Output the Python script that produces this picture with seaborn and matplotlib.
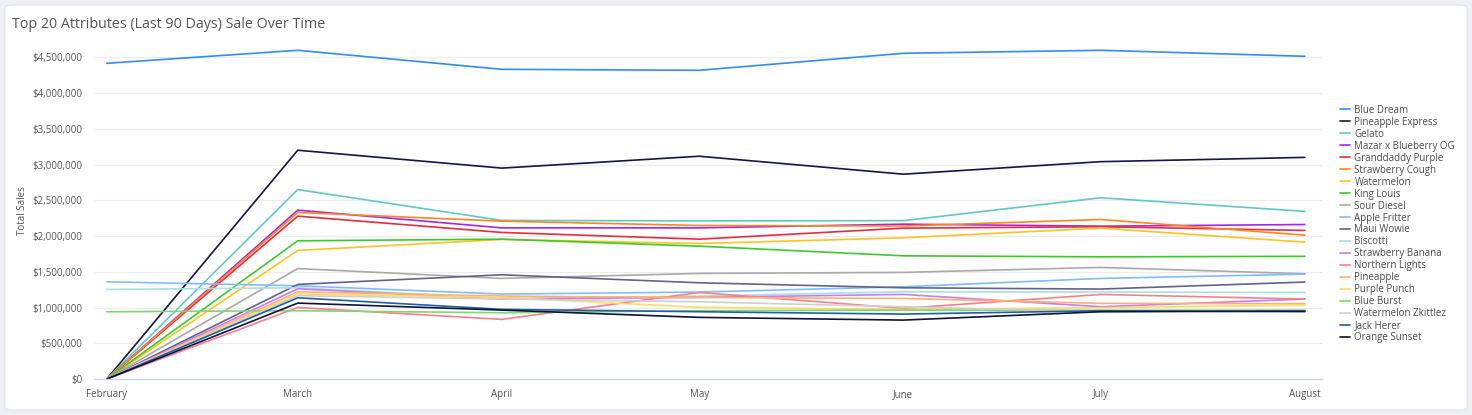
import matplotlib
matplotlib.use("Agg")
import matplotlib.pyplot as plt
import matplotlib.ticker as mticker
from matplotlib.patches import FancyBboxPatch
import seaborn as sns
import pandas as pd
import numpy as np

months = ["2024-02-01", "2024-03-01", "2024-04-01", "2024-05-01", "2024-06-01", "2024-07-01", "2024-08-01"]
month_labels = ["February", "March", "April", "May", "June", "July", "August"]

blue_dream = [4416000, 4598000, 4332000, 4318000, 4556000, 4598000, 4514000]
pineapple_express = [0, 3200000, 2950000, 3116000, 2865000, 3040000, 3100000]
gelato = [0, 2650000, 2218000, 2212000, 2215000, 2535000, 2345000]
mazar_blueberry = [0, 2362000, 2114000, 2114000, 2166000, 2138000, 2161000]
granddaddy_purple = [0, 2278000, 2050000, 1956000, 2110000, 2130000, 2078000]
strawberry_cough = [0, 2330000, 2208000, 2147000, 2140000, 2231000, 2012000]
watermelon = [0, 1798000, 1952000, 1895000, 1975000, 2110000, 1914000]
king_louis = [0, 1933000, 1956000, 1858000, 1723000, 1709000, 1716000]
sour_diesel = [0, 1545000, 1407000, 1477000, 1491000, 1561000, 1472000]
apple_fritter = [1360000, 1304000, 1188000, 1216000, 1290000, 1407000, 1467000]
maui_wowie = [0, 1323000, 1458000, 1346000, 1276000, 1258000, 1356000]
biscotti = [1253000, 1276000, 1127000, 1160000, 1220000, 1216000, 1210000]
strawberry_banana = [0, 1262000, 1118000, 1142000, 1183000, 1011000, 1118000]
northern_lights = [0, 1000000, 834000, 1210000, 988000, 1183000, 1118000]
pineapple = [0, 1220000, 1160000, 1140000, 1127000, 1058000, 1053000]
purple_punch = [0, 1190000, 1142000, 1002000, 974000, 997000, 1034000]
blue_burst = [941000, 955000, 927000, 955000, 964000, 960000, 964000]
watermelon_zkittlez = [0, 1165000, 1120000, 1080000, 1010000, 941000, 960000]
jack_herer = [0, 1136000, 974000, 941000, 908000, 955000, 941000]
orange_sunset = [0, 1062000, 964000, 862000, 824000, 941000, 950000]

series = {
    "Blue Dream": (blue_dream, "#2b8ff7"),
    "Pineapple Express": (pineapple_express, "#14144f"),
    "Gelato": (gelato, "#5ec9c9"),
    "Mazar x Blueberry OG": (mazar_blueberry, "#a424f0"),
    "Granddaddy Purple": (granddaddy_purple, "#ec2a3f"),
    "Strawberry Cough": (strawberry_cough, "#ff851b"),
    "Watermelon": (watermelon, "#ffc21f"),
    "King Louis": (king_louis, "#3acb29"),
    "Sour Diesel": (sour_diesel, "#a9a9a9"),
    "Apple Fritter": (apple_fritter, "#80bdfc"),
    "Maui Wowie": (maui_wowie, "#62628e"),
    "Biscotti": (biscotti, "#a5e2e2"),
    "Strawberry Banana": (strawberry_banana, "#c57cfc"),
    "Northern Lights": (northern_lights, "#ff7b8b"),
    "Pineapple": (pineapple, "#ffb06b"),
    "Purple Punch": (purple_punch, "#ffd865"),
    "Blue Burst": (blue_burst, "#78dc6c"),
    "Watermelon Zkittlez": (watermelon_zkittlez, "#cfcfcf"),
    "Jack Herer": (jack_herer, "#1f5ea8"),
    "Orange Sunset": (orange_sunset, "#0e1337"),
}

rows = []
for name, (vals, _) in series.items():
    for m, v in zip(months, vals):
        rows.append({"Month": pd.Timestamp(m), "Attribute": name, "Total Sales": v})
df = pd.DataFrame(rows)
palette = {name: c for name, (_, c) in series.items()}
order = list(series.keys())

sns.set_theme(style="white")
plt.rcParams["font.family"] = ["Open Sans", "DejaVu Sans"]

fig = plt.figure(figsize=(14.72, 4.15), dpi=100)
fig.patch.set_facecolor("#eef0f3")
card = FancyBboxPatch((5 / 1472, 5 / 415), 1462 / 1472, 405 / 415,
                      boxstyle="round,pad=0,rounding_size=0.006",
                      transform=fig.transFigure, facecolor="white",
                      edgecolor="#e2e4e8", linewidth=0.8, zorder=-10)
fig.patches.append(card)

ax = fig.add_axes([95 / 1472, 1 - 379 / 415, (1322 - 95) / 1472, (379 - 43) / 415])
ax.set_facecolor("none")
ax.set_zorder(1)

sns.lineplot(data=df, x="Month", y="Total Sales", hue="Attribute", hue_order=order,
             palette=palette, linewidth=1.2, ax=ax, legend=True, estimator=None)

ax.set_ylim(0, 4700000)
ax.set_yticks(np.arange(0, 4500001, 500000))
ax.yaxis.set_major_formatter(mticker.FuncFormatter(lambda v, p: f"${v:,.0f}"))
xs = [pd.Timestamp(m) for m in months]
ax.set_xticks(xs)
ax.set_xticklabels(month_labels)
ax.set_xlim(pd.Timestamp(months[0]) - pd.Timedelta(days=1.8),
            pd.Timestamp(months[-1]) + pd.Timedelta(days=2.6))

ax.grid(axis="y", color="#ececec", linewidth=0.9)
ax.grid(axis="x", visible=False)
for s in ["top", "right", "left"]:
    ax.spines[s].set_visible(False)
ax.spines["bottom"].set_color("#ccd6eb")
ax.spines["bottom"].set_linewidth(1.0)
ax.tick_params(axis="both", length=0, labelsize=7, labelcolor="#555555")
ax.tick_params(axis="x", pad=7)
ax.tick_params(axis="y", pad=9)
ax.set_xlabel("")
ax.set_ylabel("Total Sales", fontsize=7, color="#555555", labelpad=3)
ax.set_axisbelow(True)

handles, labels = ax.get_legend_handles_labels()
ax.get_legend().remove()
fig.legend(handles, labels, loc="center left",
           bbox_to_anchor=(1333 / 1472, 1 - 224 / 415),
           frameon=False, fontsize=7, labelcolor="#4a4a4a",
           handlelength=1.1, handletextpad=0.4, labelspacing=0.1,
           borderpad=0.2)

fig.text(12 / 1472, 1 - 24.5 / 415, "Top 20 Attributes (Last 90 Days) Sale Over Time",
         fontsize=10.3, color="#555555", va="center", ha="left")

fig.savefig("out.png", dpi=100, facecolor=fig.get_facecolor())
